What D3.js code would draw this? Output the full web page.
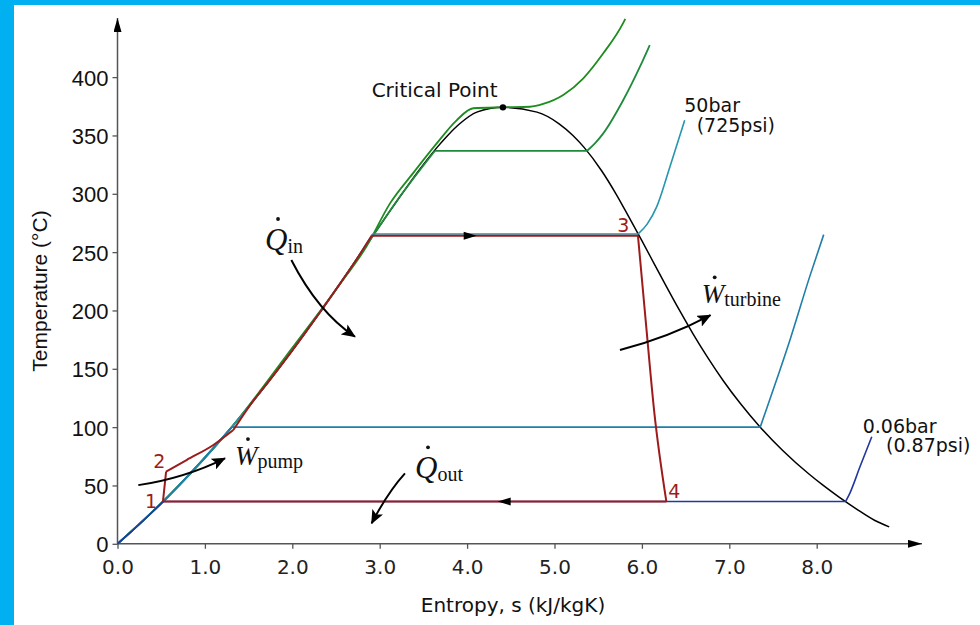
<!DOCTYPE html>
<html>
<head>
<meta charset="utf-8">
<script src="https://cdn.jsdelivr.net/npm/d3@7"></script>
<style>
  html, body { margin: 0; padding: 0; background: #fff; }
  svg { display: block; }
</style>
</head>
<body>
<svg id="chart" width="980" height="625"></svg>
<script>
// saturation dome (s in kJ/kgK, T in degC)
const domeS = [0, 0.151, 0.297, 0.437, 0.572, 0.704, 0.831, 1.075, 1.307, 1.528, 1.739, 1.943, 2.139, 2.331, 2.518, 2.702, 2.885, 3.069, 3.255, 3.448, 3.659, 3.778, 3.915, 4.111, 4.41,
  4.80, 5.053, 5.211, 5.336, 5.537, 5.703, 5.852, 5.998, 6.141, 6.284, 6.431, 6.585, 6.75, 6.929, 7.129, 7.354, 7.611, 7.908, 8.075, 8.256, 8.452, 8.666, 8.83];
const domeT = [0, 10, 20, 30, 40, 50, 60, 80, 100, 120, 140, 160, 180, 200, 220, 240, 260, 280, 300, 320, 340, 350, 360, 370, 374.1,
  370, 360, 350, 340, 320, 300, 280, 260, 240, 220, 200, 180, 160, 140, 120, 100, 80, 60, 50, 40, 30, 20, 14.5];
const critical = [4.41, 374.1];

// isobars
const superS = [0, 0.572, 1.307, 2.0, 2.5, 2.85, 3.12, 3.38, 3.65, 3.88, 4.07, 4.41, 4.72, 4.87, 5.10, 5.33, 5.558, 5.788, 5.81];
const superT = [0, 40, 100, 168, 218, 255, 292, 317.5, 343, 363, 373.3, 374.1, 374.6, 377, 384.7, 399, 420.4, 446.7, 450];
const p140S = [0, 0.572, 1.307, 2.331, 2.885, 3.255, 3.63, 5.37, 5.46, 5.558, 5.787, 5.978, 6.09];
const p140T = [0, 40, 100, 200, 260, 300, 336.7, 336.7, 343, 351.8, 380.4, 409, 427.5];
const p50S = [0, 0.572, 1.307, 2.331, 2.702, 2.92, 5.955, 6.06, 6.17, 6.32, 6.49];
const p50T = [0, 40, 100, 200, 240, 265.5, 265.5, 274, 289, 323, 363];
const p1S = [0, 0.572, 1.307, 7.354, 7.43, 7.694, 7.92, 8.08];
const p1T = [0, 40, 100, 100, 116.4, 174.7, 229, 265];
const p006S = [0, 0.151, 0.297, 0.437, 0.52, 8.33, 8.38, 8.495, 8.63];
const p006T = [0, 10, 20, 30, 36.2, 36.2, 43.5, 66, 91.8];

// Rankine cycle 1 -> 2 -> 3 -> 4 -> 1
const cycleS = [0.52, 0.556, 0.79, 1.097, 1.325, 1.528, 1.739, 1.943, 2.139, 2.331, 2.518, 2.702, 2.908, 5.955, 6.045, 6.14, 6.28, 0.52];
const cycleT = [36.2, 61.8, 71.8, 84.7, 97.5, 120, 140, 160, 180, 200, 220, 240, 264, 264, 190, 114, 36.2, 36.2];

const xTicks = [0, 1, 2, 3, 4, 5, 6, 7, 8];
const yTicks = [0, 50, 100, 150, 200, 250, 300, 350, 400];

const RED = '#9e1b1b';
const SANS = '"DejaVu Sans", Verdana, sans-serif';
const ARIAL = '"Liberation Sans", Arial, sans-serif';
const SERIF = '"Liberation Serif", "Times New Roman", serif';

const svg = d3.select('#chart');

const x = d3.scaleLinear().domain([0, 9]).range([117.5, 117.5 + 9 * 87.4]);
const y = d3.scaleLinear().domain([0, 400]).range([543.8, 543.8 - 400 * 1.1667]);

// blue frame
svg.append('rect').attr('x', 0).attr('y', 0).attr('width', 14).attr('height', 625).attr('fill', '#00b0f0');
svg.append('rect').attr('x', 0).attr('y', 0).attr('width', 980).attr('height', 5).attr('fill', '#00b0f0');

const defs = svg.append('defs');
defs.append('marker')
  .attr('id', 'axhead').attr('viewBox', '0 0 14 8').attr('refX', 14).attr('refY', 4)
  .attr('markerWidth', 14).attr('markerHeight', 8).attr('markerUnits', 'userSpaceOnUse')
  .attr('orient', 'auto')
  .append('path').attr('d', 'M0,0L14,4L0,8Z').attr('fill', '#000');
defs.append('marker')
  .attr('id', 'ahead').attr('viewBox', '0 0 14 12').attr('refX', 13).attr('refY', 6)
  .attr('markerWidth', 14).attr('markerHeight', 12).attr('markerUnits', 'userSpaceOnUse')
  .attr('orient', 'auto')
  .append('path').attr('d', 'M0,0L14,6L0,12L3,6Z').attr('fill', '#000');

// Axes
const xAxis = svg.append('g')
  .attr('transform', `translate(0,${y(0)})`)
  .call(d3.axisBottom(x).tickValues(xTicks).tickFormat(d3.format('.1f')).tickSize(5).tickPadding(11));
xAxis.select('.domain').remove();
xAxis.selectAll('line').attr('stroke', '#555').attr('stroke-width', 1.3);
xAxis.selectAll('text').attr('font-family', SANS).attr('font-size', 20).attr('fill', '#222');

const yAxis = svg.append('g')
  .attr('transform', `translate(${x(0)},0)`)
  .call(d3.axisLeft(y).tickValues(yTicks).tickSize(5).tickPadding(4));
yAxis.select('.domain').remove();
yAxis.selectAll('line').attr('stroke', '#555').attr('stroke-width', 1.3);
yAxis.selectAll('text').attr('font-family', ARIAL).attr('font-size', 22).attr('fill', '#111').attr('dy', '0.36em');

svg.append('line')
  .attr('x1', x(0)).attr('x2', 922).attr('y1', y(0)).attr('y2', y(0))
  .attr('stroke', '#555').attr('stroke-width', 1.5).attr('marker-end', 'url(#axhead)');
svg.append('line')
  .attr('x1', x(0)).attr('x2', x(0)).attr('y1', y(0)).attr('y2', 18)
  .attr('stroke', '#555').attr('stroke-width', 1.5).attr('marker-end', 'url(#axhead)');

svg.append('text')
  .attr('x', 513).attr('y', 611.5).attr('text-anchor', 'middle')
  .attr('font-family', SANS).attr('font-size', 20).attr('fill', '#111')
  .text('Entropy, s (kJ/kgK)');
svg.append('text')
  .attr('transform', 'translate(47,291) rotate(-90)').attr('text-anchor', 'middle')
  .attr('font-family', ARIAL).attr('font-size', 21).attr('fill', '#111')
  .text('Temperature (°C)');

// curves: smooth pieces, split at flat (phase change) runs and at given corners
const smooth = d3.line().x(d => x(d[0])).y(d => y(d[1])).curve(d3.curveMonotoneX);
const straight = d3.line().x(d => x(d[0])).y(d => y(d[1]));
function curve(sArr, tArr, color, width, corners = []) {
  const pts = d3.zip(sArr, tArr);
  let d = '';
  let start = 0;
  for (let i = 1; i < pts.length; i++) {
    const flat = pts[i][1] === pts[i - 1][1];
    if (flat) {
      if (i - 1 > start) d += smooth(pts.slice(start, i));
      d += straight(pts.slice(i - 1, i + 1));
      start = i;
    } else if (corners.includes(i) && i > start) {
      d += smooth(pts.slice(start, i + 1));
      start = i;
    }
  }
  if (pts.length - 1 > start) d += smooth(pts.slice(start));
  svg.append('path')
    .attr('d', d)
    .attr('fill', 'none')
    .attr('stroke', color)
    .attr('stroke-width', width)
    .attr('stroke-linejoin', 'round');
}

curve(domeS, domeT, '#000', 1.5);
curve(superS, superT, '#1e8c1e', 1.8);
curve(p140S, p140T, '#1f8a3c', 1.8);
curve(p50S, p50T, '#2596ae', 1.6);
curve(p1S, p1T, '#1f7fa8', 1.6);
curve(p006S, p006T, '#2238a0', 1.6);
curve(cycleS, cycleT, RED, 2, [1, 4]);

// flow direction arrows on the cycle
function tri(s, t, dir) {
  const px = x(s), py = y(t);
  svg.append('path')
    .attr('d', `M${px},${py}L${px - dir * 13},${py - 4}L${px - dir * 13},${py + 4}Z`)
    .attr('fill', '#000');
}
tri(4.11, 264, 1);
tri(4.35, 36.2, -1);

svg.append('circle')
  .attr('cx', x(critical[0])).attr('cy', y(critical[1])).attr('r', 3.2).attr('fill', '#000');

// text labels
function label(s, t, str, opts = {}) {
  return svg.append('text')
    .attr('x', x(s)).attr('y', y(t))
    .attr('font-family', opts.family || SANS)
    .attr('font-size', opts.size || 19)
    .attr('fill', opts.color || '#111')
    .text(str);
}
label(2.908, 382.7, 'Critical Point', { size: 20 });
label(6.485, 370.4, '50bar');
label(6.627, 353.2, '(725psi)');
label(8.526, 95.2, '0.06bar');
label(8.793, 78.9, '(0.87psi)');

label(0.315, 30.9, '1', { color: RED });
label(0.41, 64.7, '2', { color: RED });
label(5.719, 267, '3', { color: RED });
label(6.302, 39, '4', { color: RED });

// heat / work annotations: dotted symbol with subscript
function rate(s, t, sym, sub, symSize, dotDx, dotDy) {
  const txt = svg.append('text')
    .attr('x', x(s)).attr('y', y(t))
    .attr('font-family', SERIF).attr('fill', '#111');
  txt.append('tspan').attr('font-size', symSize).attr('font-style', 'italic').text(sym);
  txt.append('tspan').attr('font-size', 20).attr('dx', 0).attr('dy', 3).text(sub);
  svg.append('circle')
    .attr('cx', x(s) + dotDx).attr('cy', y(t) + dotDy).attr('r', 1.9).attr('fill', '#111');
}
rate(1.688, 251.8, 'Q', 'in', 31, 13, -31);
rate(3.404, 56.1, 'Q', 'out', 31, 13, -31);
rate(1.344, 67.5, 'W', 'pump', 27, 13, -26);
rate(6.684, 206.1, 'W', 'turbine', 27, 13, -26);

function arrow(p0, c, p1) {
  svg.append('path')
    .attr('d', `M${x(p0[0])},${y(p0[1])}Q${x(c[0])},${y(c[1])} ${x(p1[0])},${y(p1[1])}`)
    .attr('fill', 'none').attr('stroke', '#000').attr('stroke-width', 2)
    .attr('marker-end', 'url(#ahead)');
}
arrow([1.989, 243.3], [2.294, 198.7], [2.717, 177.5]);
arrow([5.749, 166.1], [6.303, 176.8], [6.785, 196.0]);
arrow([0.238, 50.3], [0.772, 56.4], [1.230, 73.3]);
arrow([3.289, 60.4], [3.095, 44.4], [2.908, 17.6]);
</script>
</body>
</html>
